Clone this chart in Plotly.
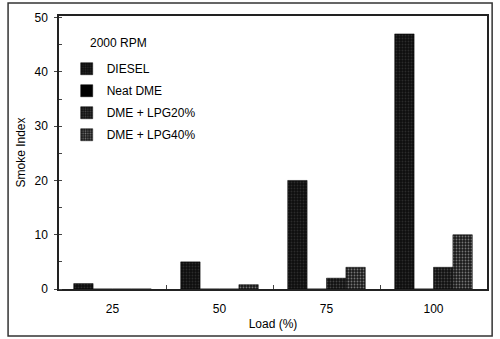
import plotly.graph_objects as go

loads = ["25", "50", "75", "100"]
diesel = [1.0, 5.0, 20.0, 47.0]
neat_dme = [0.0, 0.0, 0.0, 0.0]
dme_lpg20 = [0.0, 0.0, 2.0, 4.0]
dme_lpg40 = [0.0, 0.8, 4.0, 10.0]

series = [
    ("DIESEL", diesel, "#0d0d0d", "#4a4a4a", "."),
    ("Neat DME", neat_dme, "#000000", "#000000", ""),
    ("DME + LPG20%", dme_lpg20, "#111111", "#777777", "."),
    ("DME + LPG40%", dme_lpg40, "#1a1a1a", "#d0d0d0", "."),
]

fig = go.Figure()
for name, vals, col, fg, shp in series:
    fig.add_trace(go.Bar(
        x=loads, y=vals, name=name, legendgroup=name,
        marker=dict(color=col, line=dict(color="#000000", width=0.5),
                    pattern=dict(shape=shp, fgcolor=fg, size=3, solidity=0.3)),
    ))

font = "Liberation Sans, Arial, sans-serif"
fig.update_layout(
    width=500, height=339,
    margin=dict(l=59, r=13, t=16, b=50),
    paper_bgcolor="white", plot_bgcolor="white",
    barmode="group", bargap=0.275, bargroupgap=0,
    font=dict(family=font, size=12, color="#000000"),
    legend=dict(
        x=0.018, y=0.86, xanchor="left", yanchor="top",
        bgcolor="rgba(0,0,0,0)", font=dict(size=12),
        itemwidth=30, tracegroupgap=3,
    ),
    annotations=[dict(text="2000 RPM", xref="paper", yref="paper",
                      x=0.068, y=0.901, xanchor="left", yanchor="middle",
                      showarrow=False, font=dict(size=12))],
    xaxis=dict(
        type="category", range=[-0.5, 3.5], automargin=False,
        title=dict(text="Load (%)", font=dict(size=12), standoff=4),
        ticks="inside", tickson="boundaries", ticklen=4,
        showline=True, linecolor="#222222", linewidth=1.5, mirror=True,
        showgrid=False, tickfont=dict(size=12), ticklabelstandoff=8,
    ),
    yaxis=dict(
        range=[0, 50.3], dtick=10, automargin=True,
        title=dict(text="Smoke Index", font=dict(size=12), standoff=6),
        ticks="outside", ticklen=3,
        minor=dict(ticks="inside", ticklen=3, dtick=5),
        showline=True, linecolor="#222222", linewidth=1.5, mirror=True,
        showgrid=False, zeroline=False, tickfont=dict(size=12),
        ticklabelstandoff=4,
    ),
    shapes=[dict(type="rect", xref="paper", yref="paper",
                 x0=-0.119, x1=1.012, y0=-0.172, y1=1.048,
                 line=dict(color="#333333", width=1.5))],
)

fig.write_html("out.html", config={"displayModeBar": False},
               post_script="document.body.style.margin='0';")
